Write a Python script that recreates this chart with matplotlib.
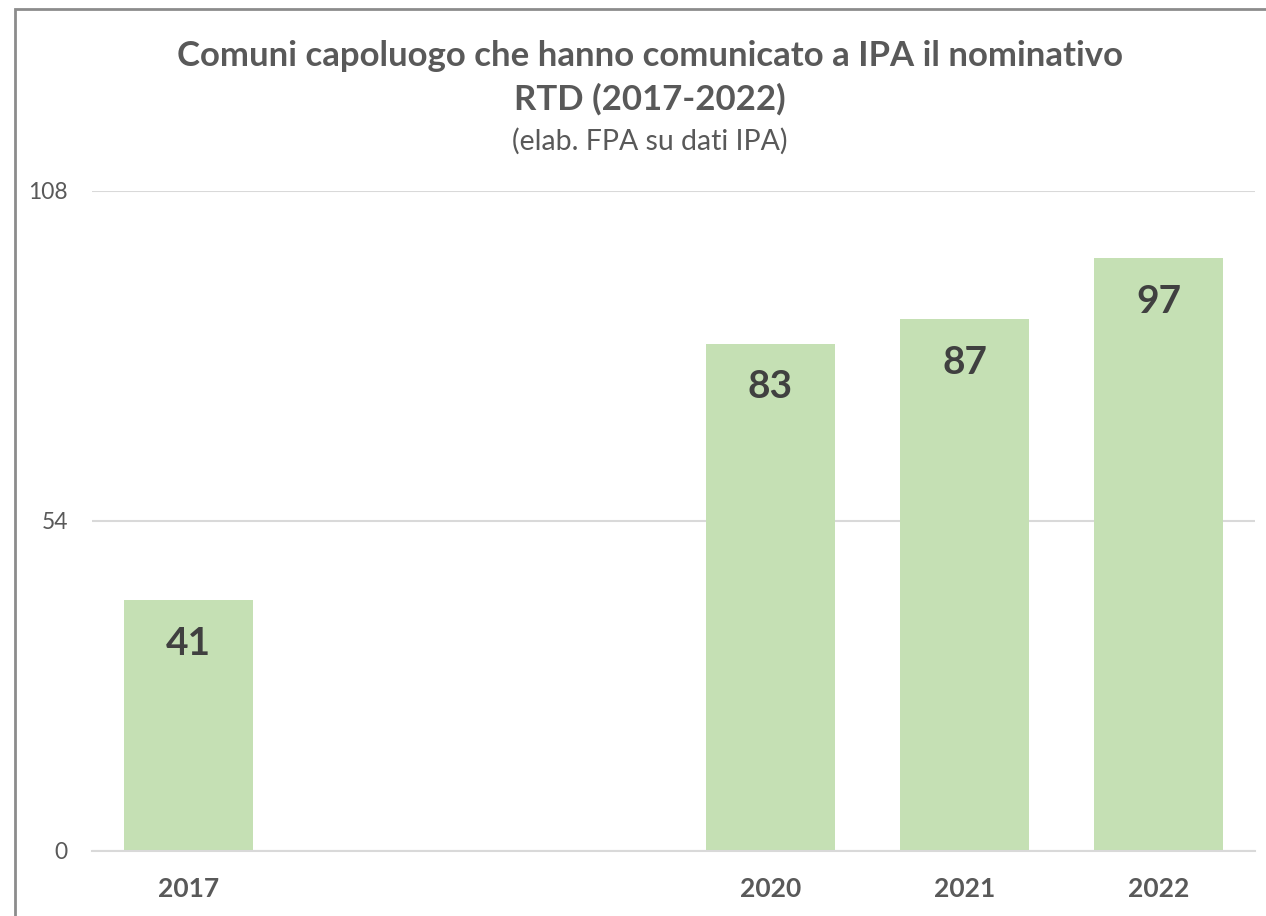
import matplotlib
matplotlib.use('Agg')
import matplotlib.pyplot as plt
import numpy as np
from matplotlib.patches import Rectangle

plt.rcParams['font.family'] = ['Lato', 'DejaVu Sans']

# data
years = ['2017', '2018', '2019', '2020', '2021', '2022']
year_labels = ['2017', '', '', '2020', '2021', '2022']
values = [41, np.nan, np.nan, 83, 87, 97]
y_ticks = [0, 54, 108]

title = 'Comuni capoluogo che hanno comunicato a IPA il nominativo\nRTD (2017-2022)'
subtitle = '(elab. FPA su dati IPA)'

bar_color = '#c5e0b4'
text_gray = '#595959'
label_dark = '#404040'

fig = plt.figure(figsize=(12.66, 9.16), dpi=100)
ax = fig.add_axes([0.0723, 0.0710, 0.9194, 0.7205])

x = np.arange(len(years))
bars = ax.bar(x, values, width=0.665, color=bar_color, zorder=2)

for xi, v in zip(x, values):
    if np.isnan(v):
        continue
    ax.annotate(f'{v:.0f}', xy=(xi, v), xytext=(0, -43), textcoords='offset pixels',
                ha='center', va='center', fontsize=28, fontweight='bold',
                color=label_dark)

ax.set_xlim(-0.5, len(years) - 0.5)
ax.set_ylim(0, 108)
ax.set_yticks(y_ticks)
ax.set_yticklabels([str(t) for t in y_ticks], fontsize=16.5, color=text_gray)
ax.set_xticks(x)
ax.set_xticklabels(year_labels, fontsize=19, fontweight='bold', color=text_gray)
ax.tick_params(axis='both', length=0)
ax.tick_params(axis='y', pad=17)
ax.tick_params(axis='x', pad=19)

ax.grid(axis='y', color='#d9d9d9', linewidth=1.5, zorder=0)
for s in ['top', 'right', 'left']:
    ax.spines[s].set_visible(False)
ax.spines['bottom'].set_color('#d9d9d9')
ax.spines['bottom'].set_linewidth(1.5)

fig.text(650 / 1266, 1 - 78 / 916, title, ha='center', va='center', fontsize=25,
         fontweight='bold', color=text_gray, linespacing=1.4)
fig.text(650 / 1266, 1 - 141 / 916, subtitle, ha='center', va='center', fontsize=20.5,
         color=text_gray)

# chart border (only left and top edges fall inside the image)
fig.patches.append(Rectangle((14.5 / 1266, -0.1), 1.2, 1 - 8.5 / 916 + 0.1,
                             transform=fig.transFigure, fill=False,
                             edgecolor='#8c8c8c', linewidth=2))

fig.savefig('out.png', dpi=100)
